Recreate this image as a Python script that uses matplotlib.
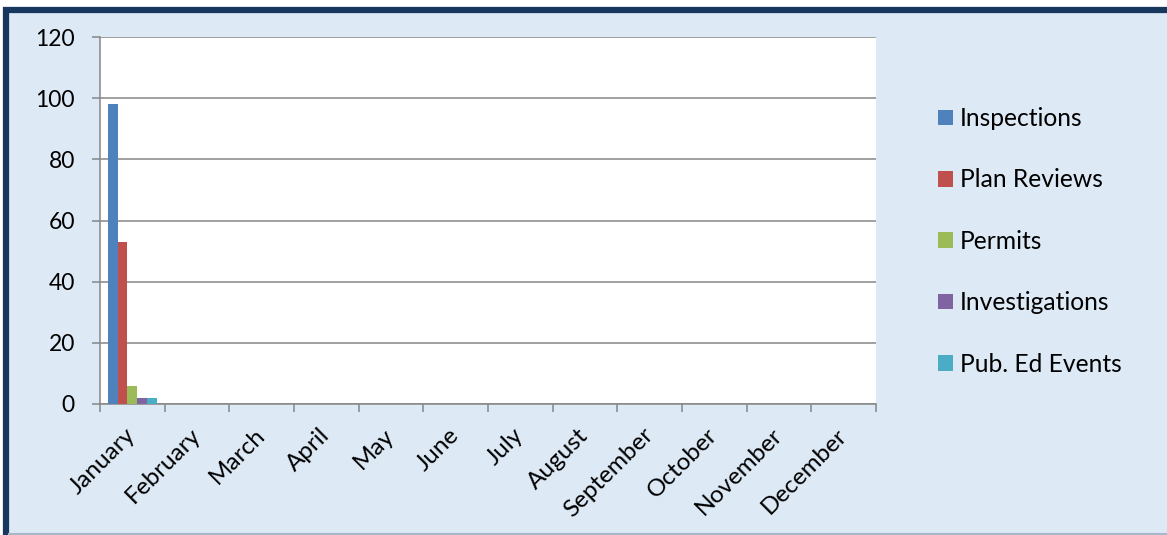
import matplotlib
matplotlib.use("Agg")
import matplotlib.pyplot as plt
from matplotlib.lines import Line2D
from matplotlib.patches import Rectangle
import numpy as np

months = ["January", "February", "March", "April", "May", "June", "July",
          "August", "September", "October", "November", "December"]
inspections = [98, 0, 0, 0, 0, 0, 0, 0, 0, 0, 0, 0]
plan_reviews = [53, 0, 0, 0, 0, 0, 0, 0, 0, 0, 0, 0]
permits = [6, 0, 0, 0, 0, 0, 0, 0, 0, 0, 0, 0]
investigations = [2, 0, 0, 0, 0, 0, 0, 0, 0, 0, 0, 0]
pub_ed_events = [2, 0, 0, 0, 0, 0, 0, 0, 0, 0, 0, 0]

series = [
    ("Inspections", inspections, "#4F81BD"),
    ("Plan Reviews", plan_reviews, "#C0504D"),
    ("Permits", permits, "#9BBB59"),
    ("Investigations", investigations, "#8064A2"),
    ("Pub. Ed Events", pub_ed_events, "#4BACC6"),
]

plt.rcParams["font.family"] = ["Lato", "DejaVu Sans"]

W, H = 1167, 535
fig = plt.figure(figsize=(W / 100, H / 100), dpi=100)
fig.patch.set_facecolor("white")

# light blue backdrop, navy frame on top and left
fig.patches.append(Rectangle((3 / W, 0), 1, 1 - 7 / H, transform=fig.transFigure,
                             facecolor="#DDE9F5", edgecolor="none", zorder=-10))
fig.lines.append(Line2D([6 / W, 6 / W], [0, 1 - 7 / H], transform=fig.transFigure,
                        color="#17375E", lw=4.5, solid_capstyle="butt"))
fig.lines.append(Line2D([3 / W, 1], [1 - 10 / H, 1 - 10 / H], transform=fig.transFigure,
                        color="#17375E", lw=4.5, solid_capstyle="butt"))
fig.lines.append(Line2D([9 / W, 1], [1.5 / H, 1.5 / H], transform=fig.transFigure,
                        color="#A9B8C8", lw=1.5))

ax = fig.add_axes([100 / W, 1 - 404 / H, 776 / W, 367 / H])
ax.set_zorder(1)
ax.set_facecolor("white")

x = np.arange(len(months))
bw = 0.15
for i, (name, vals, col) in enumerate(series):
    ax.bar(x + (i - 2) * bw, vals, bw, color=col, label=name, zorder=3)

ax.set_xlim(-0.5, 11.5)
ax.set_ylim(0, 120)
ax.set_yticks(range(0, 121, 20))
ax.yaxis.grid(True, color="#868686", lw=1.1)
ax.set_axisbelow(True)

for s in ["top", "right"]:
    ax.spines[s].set_visible(False)
for s in ["left", "bottom"]:
    ax.spines[s].set_color("#868686")
    ax.spines[s].set_linewidth(1.1)

ax.set_xticks(x)
ax.set_xticklabels(months, rotation=45, ha="right", va="center", rotation_mode="anchor")
ax.set_xticks(np.arange(-0.5, 12, 1), minor=True)
ax.tick_params(axis="x", which="major", length=0, pad=20, labelsize=17.5)
ax.tick_params(axis="x", which="minor", length=6, width=1.1, color="#868686")
ax.tick_params(axis="y", length=6, width=1.1, color="#868686", labelsize=16.5, pad=12)

leg = fig.legend(loc="upper left", bbox_to_anchor=(916 / W, 1 - 85 / H),
                 frameon=False, fontsize=17.7, handlelength=0.6, handleheight=0.6,
                 handletextpad=0.3, labelspacing=1.56)

fig.savefig("out.png", dpi=100)
